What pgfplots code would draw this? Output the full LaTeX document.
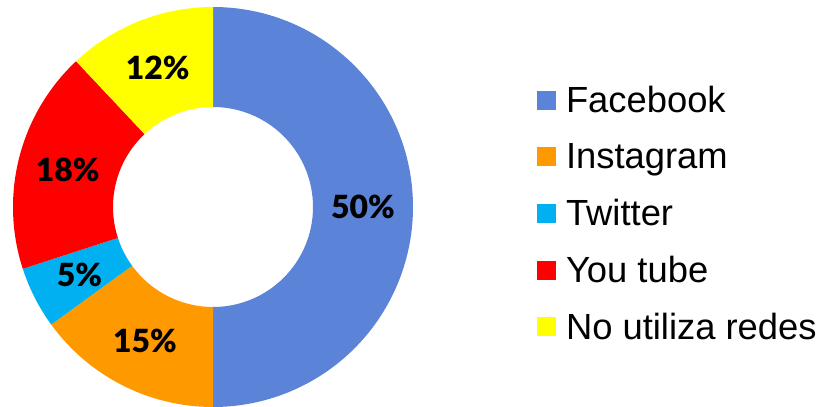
\documentclass[border=0pt]{standalone}
\usepackage{fontspec}
\setmainfont{Liberation Sans}
\newfontfamily\lato[BoldFont={Lato Black}]{Lato}
\usepackage{pgfplots}
\usepackage{pgfplotstable}
\pgfplotsset{compat=1.18}

\definecolor{c0}{RGB}{91,132,216}
\definecolor{c1}{RGB}{255,153,0}
\definecolor{c2}{RGB}{0,176,240}
\definecolor{c3}{RGB}{255,0,0}
\definecolor{c4}{RGB}{255,255,0}

\newcommand\labelfont{\lato\bfseries\fontsize{32}{32}\selectfont}

% share of each network, in per cent
\pgfplotstableread{
label value
Facebook 50
Instagram 15
Twitter 5
{You tube} 18
{No utiliza redes} 12
}\sharetable

\begin{document}
\begin{tikzpicture}
\path[use as bounding box] (0,0) rectangle (826bp,407bp);
\begin{axis}[
    at={(13bp,0bp)}, anchor=south west,
    width=400bp, height=400bp, scale only axis,
    xmin=-1, xmax=1, ymin=-1, ymax=1,
    hide axis, clip=false,
    legend cell align=left,
    legend style={at={(1.31,0.484)}, anchor=west, draw=none, fill=none,
        inner sep=0pt, outer sep=0pt,
        font=\fontsize{36.5}{36.5}\selectfont,
        row sep=21.2bp, column sep=10bp,
        nodes={inner sep=0pt, text height=30bp, text depth=5.5bp}},
    legend image code/.code={\fill[draw=none,#1] (0bp,-9.5bp) rectangle (19bp,9.5bp);},
]
\addlegendimage{draw=none, fill=c0}
\addlegendentry{Facebook}
\addlegendimage{draw=none, fill=c1}
\addlegendentry{Instagram}
\addlegendimage{draw=none, fill=c2}
\addlegendentry{Twitter}
\addlegendimage{draw=none, fill=c3}
\addlegendentry{You tube}
\addlegendimage{draw=none, fill=c4}
\addlegendentry{No utiliza redes}

\pgfmathsetmacro\angstart{90}
\pgfplotsforeachungrouped \i in {0,...,4}{%
  \pgfplotstablegetelem{\i}{value}\of\sharetable
  \pgfmathtruncatemacro\val{\pgfplotsretval}
  \pgfmathsetmacro\angstop{\angstart-3.6*\val}
  \pgfmathsetmacro\angmid{(\angstart+\angstop)/2}
  \edef\slice{%
    \noexpand\fill[c\i] (axis cs:{cos(\angstart)},{sin(\angstart)})
      arc[start angle=\angstart, end angle=\angstop, radius=200bp]
      -- (axis cs:{0.5*cos(\angstop)},{0.5*sin(\angstop)})
      arc[start angle=\angstop, end angle=\angstart, radius=100bp] -- cycle;
    \noexpand\node[font=\noexpand\labelfont]
      at (axis cs:{0.75*cos(\angmid)},{0.75*sin(\angmid)}) {\val\noexpand\%};
  }\slice
  \let\angstart\angstop
}
\end{axis}
\end{tikzpicture}
\end{document}
